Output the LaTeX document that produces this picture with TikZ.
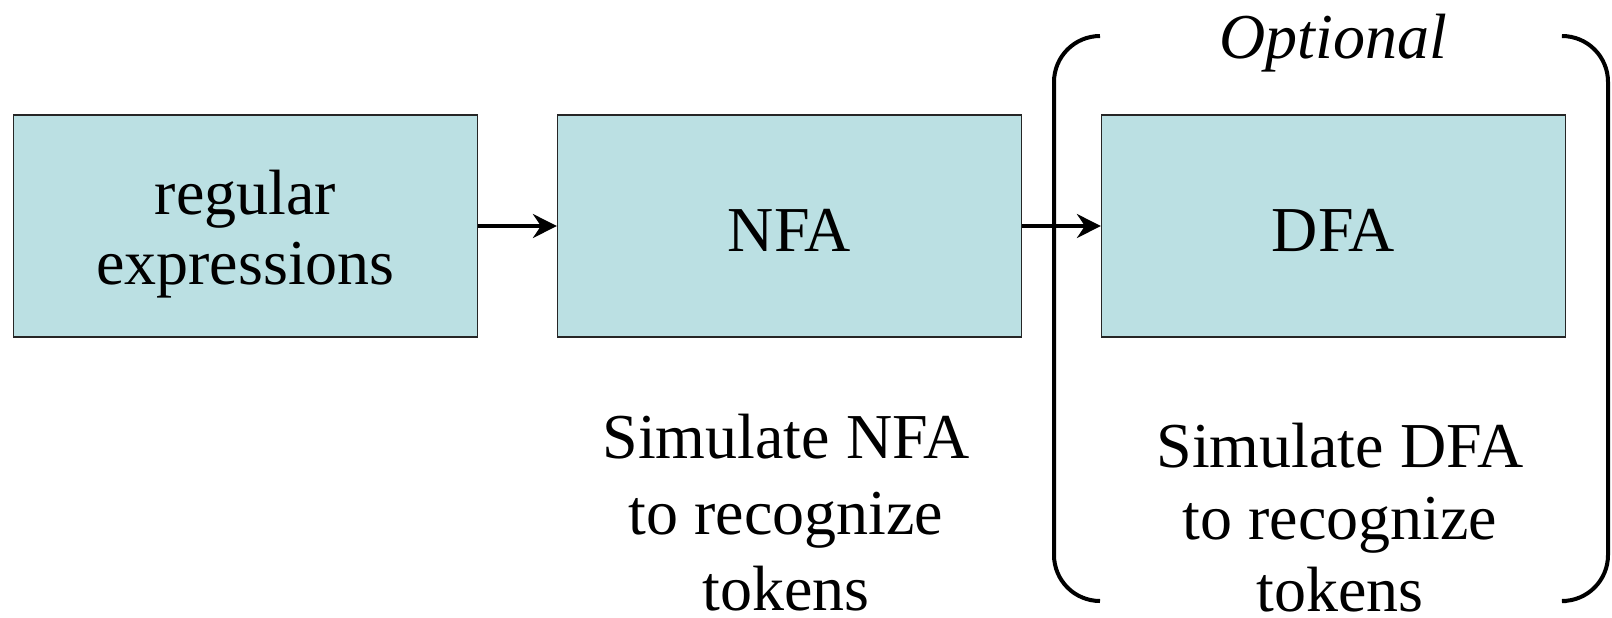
\documentclass[tikz,border=0pt]{standalone}
\usepackage{fontspec}
\setmainfont{Liberation Serif}
\usetikzlibrary{arrows.meta}
\definecolor{boxfill}{HTML}{BBE0E3}
\begin{document}
\begin{tikzpicture}[x=0.5pt,y=-0.5pt,
  stagebox/.style={draw=black!85, line width=0.6pt, fill=boxfill, minimum width=232pt, minimum height=111pt, inner sep=0pt},
  boxtext/.style={align=center, inner sep=0pt, font=\fontsize{32}{35}\selectfont},
  note/.style={align=center, inner sep=0pt, font=\fontsize{32}{38}\selectfont},
  flow/.style={line width=1.6pt, -{Stealth[length=12pt,width=12pt,inset=4pt]}},
  brace/.style={line width=2pt, rounded corners=23pt}]
\useasboundingbox (0,0) rectangle (1612,617);
\node[stagebox, label={[boxtext, yshift=-4pt]center:{regular\\expressions}}] (re) at (245.5,226) {};
\node[stagebox, label={[boxtext, yshift=-2pt]center:NFA}] (nfa) at (789.5,226) {};
\node[stagebox, label={[boxtext, yshift=-2pt]center:DFA}] (dfa) at (1333.5,226) {};
\draw[flow] (re) -- (nfa);
\draw[flow] (nfa) -- (dfa);
\node[note] (snfa) at (786,513) {Simulate NFA\\to recognize\\tokens};
\node[note, font=\fontsize{32}{36}\selectfont] (sdfa) at (1340,518) {Simulate DFA\\to recognize\\tokens};
\node[note, font=\fontsize{32}{38}\selectfont\itshape] (opt) at (1333,43) {Optional};
\coordinate (lt) at (1100,36);
\coordinate (lb) at (1100,601);
\coordinate (rt) at (1566,36);
\coordinate (rb) at (1566,601);
\draw[brace] (lt) -- (1054,36) -- (1054,601) -- (lb);
\draw[brace] (rt) -- (1608,36) -- (1608,601) -- (rb);
\end{tikzpicture}
\end{document}
